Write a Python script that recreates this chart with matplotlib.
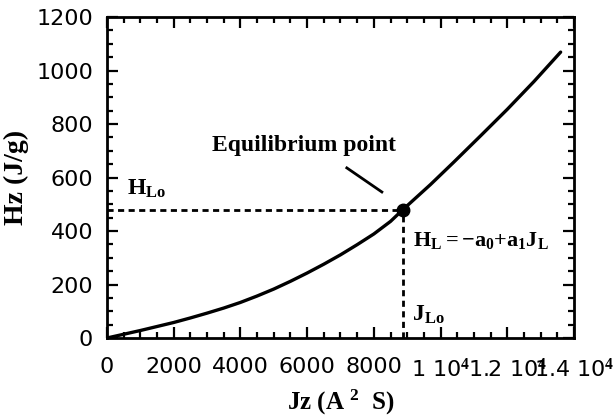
import matplotlib
matplotlib.use("Agg")
import matplotlib.pyplot as plt
from matplotlib.ticker import MultipleLocator, FixedLocator

plt.rcParams['mathtext.fontset'] = 'custom'
plt.rcParams['mathtext.rm'] = 'Liberation Serif:bold'
plt.rcParams['mathtext.bf'] = 'Liberation Serif:bold'
plt.rcParams['mathtext.it'] = 'Liberation Serif:bold'

# data
jz = [0, 500, 1000, 1500, 2000, 2500, 3000, 3500, 4000, 4500, 5000, 5500, 6000, 6500, 7000,
      7500, 8000, 8500, 8870, 9700, 10400, 11200, 12000, 12800, 13600]
hz = [0, 14, 28, 43, 58, 75, 93, 112, 133, 157, 183, 212, 243, 276, 311,
      349, 389, 436, 480, 574, 658, 756, 855, 959, 1069]
eq_point = (8870, 480)
x_ticks = [0, 2000, 4000, 6000, 8000, 10000, 12000, 14000]
x_ticklabels = ["0", "2000", "4000", "6000", "8000", r"1 10$^4$", r"1.2 10$^4$", r"1.4 10$^4$"]
y_ticks = [0, 200, 400, 600, 800, 1000, 1200]

fig = plt.figure(figsize=(6.16, 4.16), dpi=100)
ax = fig.add_axes([0.1737, 0.1875, 0.7581, 0.7715])

ax.plot(jz, hz, color='black', lw=2.4, solid_capstyle='round', solid_joinstyle='round')
ax.plot([0, eq_point[0]], [eq_point[1], eq_point[1]], color='black', lw=2, dashes=(2.2, 1.6))
ax.plot([eq_point[0], eq_point[0]], [0, eq_point[1]], color='black', lw=2, dashes=(2.2, 1.6))
ax.plot([eq_point[0]], [eq_point[1]], 'o', color='black', ms=9)
ax.plot([7190, 8240], [636, 546], color='black', lw=2)

ax.set_xlim(0, 14000)
ax.set_ylim(0, 1200)
ax.xaxis.set_major_locator(FixedLocator(x_ticks))
ax.set_xticklabels(x_ticklabels)
ax.xaxis.set_minor_locator(MultipleLocator(500))
ax.yaxis.set_major_locator(FixedLocator(y_ticks))
ax.yaxis.set_minor_locator(MultipleLocator(50))

ax.tick_params(which='both', direction='in', top=True, right=True, width=1.6)
ax.tick_params(which='major', length=8, labelsize=16)
ax.tick_params(axis='x', which='major', pad=14)
ax.tick_params(axis='y', which='major', pad=10)
ax.tick_params(which='minor', length=4)
for s in ax.spines.values():
    s.set_linewidth(2)
for lab in ax.get_xticklabels() + ax.get_yticklabels():
    lab.set_family('DejaVu Sans')

ax.set_xlabel(r"Jz (A $^{\mathbf{2}}$  S)", family='Liberation Serif', weight='bold', fontsize=18, labelpad=5)
ax.set_ylabel("Hz (J/g)", family='Liberation Serif', weight='bold', fontsize=20, labelpad=5)

ax.text(5900, 700, "Equilibrium point", family='Liberation Serif', weight='bold', fontsize=17,
        ha='center', va='baseline')
ax.text(600, 515, r"$\mathbf{H_{Lo}}$", fontsize=17, ha='left', va='bottom')
ax.text(9170, 366, r"$\mathbf{H_{L}{=}{-}a_{0}{+}a_{1}J_{L}}$", fontsize=16, ha='left', va='center')
ax.text(9140, 90, r"$\mathbf{J_{Lo}}$", fontsize=17, ha='left', va='center')

fig.savefig("out.png", dpi=100)
